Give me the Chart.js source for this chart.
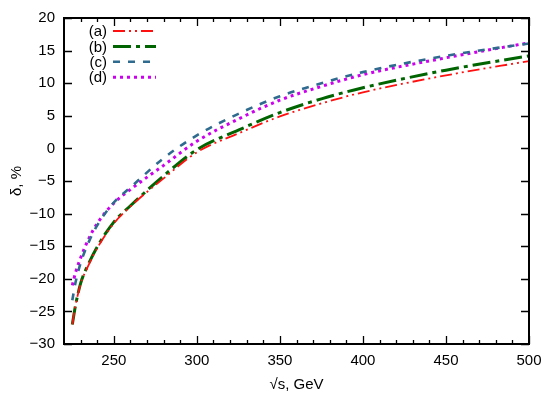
<!DOCTYPE html>
<html>
<head>
<meta charset="utf-8">
<script src="https://cdn.jsdelivr.net/npm/chart.js@4.4.0/dist/chart.umd.min.js"></script>
<style>
html,body{margin:0;padding:0;background:#fff;}
#wrap{width:550px;height:394px;position:relative;}
</style>
</head>
<body>
<div id="wrap"><canvas id="c" width="550" height="394"></canvas></div>
<script>
// ---- data ----
const sqrtS = [225, 227, 230, 235, 240, 250, 260, 280, 300, 325, 350, 375, 400, 450, 500];
const seriesA = [-27.0, -24.0, -20.8, -17.8, -15.3, -11.5, -8.9, -4.6, -0.6, 2.3, 4.9, 6.9, 8.6, 11.2, 13.4];
const seriesB = [-27.0, -24.0, -20.7, -17.6, -15.1, -11.3, -8.8, -4.2, -0.2, 2.8, 5.5, 7.6, 9.3, 12.0, 14.2];
const seriesC = [-23.3, -20.5, -17.6, -14.3, -11.8, -8.3, -6.0, -1.5, 2.0, 5.3, 8.0, 10.0, 11.7, 14.2, 16.1];
const seriesD = [-21.0, -19.0, -16.8, -13.8, -11.5, -8.4, -6.3, -2.6, 1.1, 4.5, 7.4, 9.5, 11.3, 13.9, 16.2];
const labels = ['(a)', '(b)', '(c)', '(d)'];
const xTickLabels = [250, 300, 350, 400, 450, 500];
const yTickLabels = [-30, -25, -20, -15, -10, -5, 0, 5, 10, 15, 20];
const xTitle = '\u221As, GeV';
const yTitle = '\u03B4, %';

const toPts = (ys) => sqrtS.map((x, i) => ({x: x, y: ys[i]}));
const FONT = "'Liberation Sans', Arial, sans-serif";

const styles = [
  {color: '#ff1010', width: 1.8, dash: [12, 4, 2, 4, 2, 4]},
  {color: '#006400', width: 3, dash: [18, 5, 4, 5]},
  {color: '#2f6b8e', width: 2.6, dash: [7, 8]},
  {color: '#cc00ee', width: 3, dash: [3, 4]}
];
const allSeries = [seriesA, seriesB, seriesC, seriesD];

const datasets = allSeries.map((s, i) => ({
  label: labels[i],
  data: toPts(s),
  borderColor: styles[i].color,
  borderWidth: styles[i].width,
  borderDash: styles[i].dash,
  pointRadius: 0,
  fill: false,
  cubicInterpolationMode: 'monotone'
}));

const framePlugin = {
  id: 'frame',
  afterDraw(chart) {
    const ctx = chart.ctx, a = chart.chartArea;
    const xs = chart.scales.x, ys = chart.scales.y;
    ctx.save();
    ctx.strokeStyle = '#000';
    ctx.lineWidth = 2;
    ctx.setLineDash([]);
    ctx.strokeRect(a.left, a.top, a.right - a.left, a.bottom - a.top);
    ctx.lineWidth = 1.3;
    ctx.beginPath();
    for (let v = 230; v <= 500; v += 10) {
      const px = Math.round(xs.getPixelForValue(v)) + 0.5;
      const L = (v % 50 === 0) ? 8 : 4;
      ctx.moveTo(px, a.bottom); ctx.lineTo(px, a.bottom - L);
      ctx.moveTo(px, a.top); ctx.lineTo(px, a.top + L);
    }
    yTickLabels.forEach(v => {
      const py = Math.round(ys.getPixelForValue(v)) + 0.5;
      ctx.moveTo(a.left, py); ctx.lineTo(a.left + 8, py);
      ctx.moveTo(a.right, py); ctx.lineTo(a.right - 8, py);
    });
    ctx.stroke();
    // legend
    ctx.font = '15px ' + FONT;
    ctx.fillStyle = '#000';
    ctx.textAlign = 'right';
    ctx.textBaseline = 'middle';
    chart.data.datasets.forEach((d, i) => {
      const y = a.top + 13 + i * 15.4;
      ctx.fillText(d.label, a.left + 43, y + 1);
      ctx.beginPath();
      ctx.strokeStyle = d.borderColor;
      ctx.lineWidth = d.borderWidth;
      ctx.setLineDash(d.borderDash);
      ctx.moveTo(a.left + 49, y);
      ctx.lineTo(a.left + 92, y);
      ctx.stroke();
    });
    ctx.restore();
  }
};

new Chart(document.getElementById('c'), {
  type: 'line',
  data: {datasets: datasets},
  options: {
    responsive: false,
    animation: false,
    layout: {padding: {left: 0, right: 21, top: 17, bottom: 0}},
    plugins: {legend: {display: false}, tooltip: {enabled: false}},
    scales: {
      x: {
        type: 'linear',
        min: 220, max: 500,
        afterBuildTicks: (s) => { s.ticks = xTickLabels.map(v => ({value: v})); },
        afterFit: (s) => { s.height = 50; },
        grid: {display: false, drawTicks: false},
        border: {display: false},
        ticks: {color: '#000', font: {family: FONT, size: 15}, padding: 8, maxRotation: 0, autoSkip: false},
        title: {display: true, text: xTitle, color: '#000', font: {family: FONT, size: 15}, padding: {top: 2, bottom: 0}}
      },
      y: {
        type: 'linear',
        min: -30, max: 20,
        afterBuildTicks: (s) => { s.ticks = yTickLabels.map(v => ({value: v})); },
        afterFit: (s) => { s.width = 64; },
        grid: {display: false, drawTicks: false},
        border: {display: false},
        ticks: {color: '#000', font: {family: FONT, size: 15}, padding: 9,
          callback: (v) => String(v).replace('-', '\u2212')},
        title: {display: true, text: yTitle, color: '#000', font: {family: FONT, size: 15}, padding: {top: 8, bottom: 4}}
      }
    }
  },
  plugins: [framePlugin]
});
</script>
</body>
</html>
